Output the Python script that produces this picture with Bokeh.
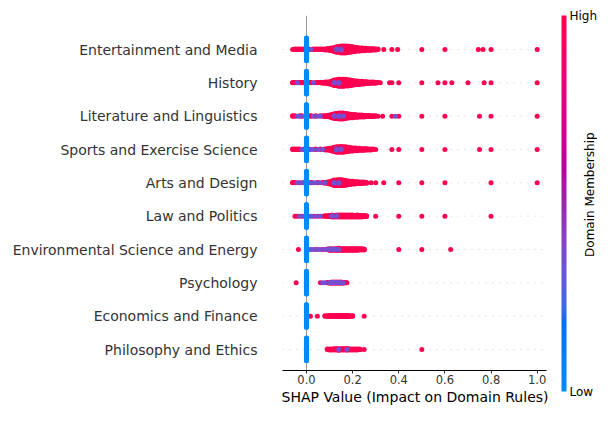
import numpy as np
from bokeh.plotting import figure
from bokeh.models import (Range1d, FixedTicker, PrintfTickFormatter, Span, ColumnDataSource,
                          LinearColorMapper, ColorBar, Label, Title)
from bokeh.embed import file_html
from bokeh.resources import INLINE

# ---------------- data ----------------
features = [
    "Entertainment and Media",
    "History",
    "Literature and Linguistics",
    "Sports and Exercise Science",
    "Arts and Design",
    "Law and Politics",
    "Environmental Science and Energy",
    "Psychology",
    "Economics and Finance",
    "Philosophy and Ethics",
]
xticks = [0.0, 0.2, 0.4, 0.6, 0.8, 1.0]
x_label = "SHAP Value (Impact on Domain Rules)"
color_label = "Domain Membership"
color_tick_labels = {0: "Low", 1: "High"}

# each entry: (SHAP value, number of samples, feature value 0=low .. 1=high)
ent = [
    (-0.06, 1, 1), (-0.05, 2, 1), (-0.04, 2, 1), (-0.03, 2, 1), (-0.02, 2, 1), (-0.01, 2, 1),
    (0.00, 60, 0),
    (0.01, 2, 1), (0.02, 1, 0.35), (0.03, 2, 1), (0.04, 2, 1), (0.05, 2, 1), (0.06, 2, 1), (0.07, 2, 1), (0.08, 3, 1),
    (0.13, 2, 0.35), (0.15, 3, 0.35),
    (0.09, 4, 1), (0.10, 6, 1), (0.11, 8, 1), (0.12, 11, 1), (0.13, 13, 1), (0.14, 16, 1), (0.15, 16, 1),
    (0.16, 19, 1), (0.17, 19, 1), (0.18, 18, 1), (0.19, 16, 1), (0.20, 14, 1), (0.21, 12, 1), (0.22, 10, 1),
    (0.23, 9, 1), (0.24, 8, 1), (0.25, 7, 1), (0.26, 6, 1), (0.27, 5, 1), (0.28, 5, 1), (0.29, 4, 1),
    (0.30, 3, 1), (0.31, 2, 1),
    (0.335, 1, 1), (0.37, 1, 1), (0.395, 1, 1), (0.50, 1, 1), (0.60, 1, 1), (0.745, 1, 1), (0.765, 1, 1),
    (0.80, 1, 1), (1.00, 1, 1),
]
his = [
    (-0.06, 2, 1), (-0.05, 2, 1), (-0.04, 1, 0.35), (-0.04, 1, 1), (-0.03, 2, 1), (-0.02, 2, 1), (-0.01, 2, 1),
    (0.00, 60, 0),
    (0.01, 2, 1), (0.02, 2, 1), (0.03, 1, 0.35), (0.04, 2, 1), (0.05, 2, 1), (0.06, 2, 1), (0.07, 3, 1), (0.08, 4, 1),
    (0.12, 2, 0.35), (0.14, 3, 0.35),
    (0.09, 5, 1), (0.10, 7, 1), (0.11, 10, 1), (0.12, 13, 1), (0.13, 16, 1), (0.14, 16, 1), (0.15, 19, 1),
    (0.16, 19, 1), (0.17, 18, 1), (0.18, 17, 1), (0.19, 15, 1), (0.20, 13, 1), (0.21, 11, 1), (0.22, 10, 1),
    (0.23, 9, 1), (0.24, 8, 1), (0.25, 7, 1), (0.26, 6, 1), (0.27, 5, 1), (0.28, 4, 1), (0.29, 4, 1),
    (0.30, 3, 1), (0.31, 2, 1), (0.32, 1, 1),
    (0.36, 1, 1), (0.37, 1, 1), (0.40, 1, 1), (0.50, 1, 1), (0.57, 1, 1), (0.60, 1, 1), (0.63, 1, 1),
    (0.70, 1, 1), (0.77, 1, 1), (0.80, 1, 1), (1.00, 1, 1),
]
lit = [
    (-0.06, 2, 1), (-0.05, 2, 1), (-0.04, 1, 0.35), (-0.03, 1, 0.35), (-0.03, 1, 1), (-0.02, 2, 1), (-0.01, 1, 0.35),
    (0.00, 60, 0),
    (0.01, 2, 1), (0.02, 2, 1), (0.03, 1, 0.35), (0.04, 2, 1), (0.05, 1, 0.35), (0.06, 1, 0.35), (0.06, 1, 1),
    (0.07, 2, 1), (0.08, 3, 1),
    (0.12, 2, 0.35), (0.14, 3, 0.35), (0.16, 2, 0.35),
    (0.09, 4, 1), (0.10, 6, 1), (0.11, 9, 1), (0.12, 11, 1), (0.13, 14, 1), (0.14, 13, 1), (0.15, 16, 1),
    (0.16, 14, 1), (0.17, 14, 1), (0.18, 12, 1), (0.19, 10, 1), (0.20, 9, 1), (0.21, 8, 1), (0.22, 7, 1),
    (0.23, 6, 1), (0.24, 6, 1), (0.25, 5, 1), (0.26, 4, 1), (0.27, 4, 1), (0.28, 3, 1), (0.29, 3, 1),
    (0.30, 2, 1), (0.31, 1, 1),
    (0.33, 1, 1), (0.37, 1, 1), (0.385, 1, 0.35), (0.40, 1, 1), (0.50, 1, 1), (0.60, 1, 1), (0.75, 1, 1),
    (0.80, 1, 1), (1.00, 1, 1),
]
spo = [
    (-0.06, 2, 1), (-0.05, 2, 1), (-0.04, 2, 1), (-0.03, 2, 1), (-0.02, 1, 0.35), (-0.01, 2, 1),
    (0.00, 60, 0),
    (0.01, 2, 1), (0.02, 1, 0.35), (0.03, 1, 0.35), (0.04, 2, 1), (0.05, 1, 0.35), (0.06, 2, 1), (0.07, 1, 0.35),
    (0.08, 3, 1),
    (0.13, 3, 0.35), (0.15, 2, 0.35),
    (0.09, 4, 1), (0.10, 6, 1), (0.11, 9, 1), (0.12, 12, 1), (0.13, 12, 1), (0.14, 15, 1), (0.15, 14, 1),
    (0.16, 15, 1), (0.17, 14, 1), (0.18, 12, 1), (0.19, 10, 1), (0.20, 9, 1), (0.21, 8, 1), (0.22, 7, 1),
    (0.23, 6, 1), (0.24, 5, 1), (0.25, 5, 1), (0.26, 4, 1), (0.27, 3, 1), (0.28, 3, 1), (0.29, 2, 1), (0.30, 1, 1),
    (0.37, 1, 1), (0.40, 1, 1), (0.50, 1, 1), (0.60, 1, 1), (0.75, 1, 1), (0.80, 1, 1), (1.00, 1, 1),
]
art = [
    (-0.06, 2, 1), (-0.05, 2, 1), (-0.04, 1, 0.35), (-0.03, 1, 1), (-0.02, 1, 0.35), (-0.01, 2, 1),
    (0.00, 60, 0),
    (0.01, 1, 0.35), (0.02, 2, 1), (0.03, 1, 0.35), (0.04, 1, 0.35), (0.05, 2, 1), (0.06, 1, 0.35), (0.07, 2, 1),
    (0.08, 1, 0.35), (0.08, 2, 1),
    (0.12, 3, 0.35), (0.14, 3, 0.35),
    (0.09, 4, 1), (0.10, 7, 1), (0.11, 10, 1), (0.12, 12, 1), (0.13, 15, 1), (0.14, 13, 1), (0.15, 16, 1),
    (0.16, 15, 1), (0.17, 13, 1), (0.18, 11, 1), (0.19, 9, 1), (0.20, 8, 1), (0.21, 7, 1), (0.22, 6, 1),
    (0.23, 5, 1), (0.24, 5, 1), (0.25, 4, 1), (0.26, 3, 1),
    (0.28, 1, 1), (0.30, 1, 1), (0.335, 1, 1), (0.40, 1, 1), (0.50, 1, 1), (0.60, 1, 1), (0.80, 1, 1), (1.00, 1, 1),
]
law = [
    (-0.05, 1, 1), (-0.04, 1, 1), (-0.03, 1, 0.35), (-0.02, 1, 1), (-0.01, 1, 0.35),
    (0.00, 60, 0),
    (0.01, 1, 0.35), (0.02, 1, 0.35), (0.03, 1, 1), (0.04, 1, 0.35), (0.05, 1, 1), (0.06, 1, 0.35), (0.07, 1, 1),
    (0.08, 2, 1),
    (0.11, 2, 0.35), (0.13, 2, 0.35),
    (0.09, 3, 1), (0.10, 4, 1), (0.11, 4, 1), (0.12, 5, 1), (0.13, 4, 1), (0.14, 6, 1), (0.15, 6, 1),
    (0.16, 6, 1), (0.17, 6, 1), (0.18, 6, 1), (0.19, 6, 1), (0.20, 6, 1), (0.21, 5, 1), (0.22, 6, 1),
    (0.23, 5, 1), (0.24, 5, 1), (0.25, 4, 1), (0.26, 3, 1),
    (0.30, 1, 1), (0.40, 1, 1), (0.50, 1, 1), (0.60, 1, 1), (0.80, 1, 1),
]
env = [
    (-0.035, 1, 1),
    (0.00, 60, 0),
    (0.01, 1, 0.35), (0.02, 1, 0.35), (0.03, 1, 0.35), (0.04, 1, 1), (0.05, 1, 0.35), (0.06, 1, 0.35),
    (0.07, 1, 1), (0.08, 1, 0.35),
    (0.10, 2, 0.35), (0.11, 2, 0.35), (0.12, 2, 0.35), (0.13, 1, 0.35), (0.14, 1, 0.35),
    (0.09, 2, 1), (0.10, 3, 1), (0.11, 3, 1), (0.12, 3, 1), (0.13, 4, 1), (0.14, 5, 1), (0.15, 5, 1),
    (0.16, 5, 1), (0.17, 5, 1), (0.18, 5, 1), (0.19, 5, 1), (0.20, 5, 1), (0.21, 5, 1), (0.22, 5, 1),
    (0.23, 4, 1), (0.24, 4, 1), (0.25, 3, 1),
    (0.40, 1, 1), (0.50, 1, 1), (0.625, 1, 1),
]
psy = [
    (-0.045, 1, 1),
    (0.00, 60, 0),
    (0.06, 1, 1), (0.07, 1, 0.35), (0.08, 1, 0.35),
    (0.10, 1, 0.35), (0.11, 2, 0.35), (0.12, 2, 0.35), (0.13, 2, 0.35), (0.14, 2, 0.35), (0.15, 1, 0.35),
    (0.16, 1, 0.35),
    (0.09, 2, 1), (0.10, 2, 1), (0.11, 2, 1), (0.12, 2, 1), (0.13, 2, 1), (0.14, 2, 1), (0.15, 3, 1),
    (0.16, 2, 1), (0.17, 2, 1), (0.175, 1, 1),
]
eco = [
    (0.00, 60, 0),
    (0.017, 1, 1), (0.047, 1, 1),
    (0.08, 2, 1), (0.09, 3, 1), (0.10, 4, 1), (0.11, 4, 1), (0.12, 4, 1), (0.13, 4, 1), (0.14, 4, 1),
    (0.15, 4, 1), (0.16, 4, 1), (0.17, 4, 1), (0.18, 4, 1), (0.19, 3, 1), (0.20, 2, 1),
    (0.25, 1, 1),
]
phi = [
    (0.00, 60, 0),
    (0.14, 1, 0.35), (0.175, 1, 0.35),
    (0.09, 2, 1), (0.10, 3, 1), (0.11, 3, 1), (0.12, 4, 1), (0.13, 4, 1), (0.14, 4, 1), (0.15, 4, 1),
    (0.16, 4, 1), (0.17, 4, 1), (0.175, 3, 1), (0.18, 4, 1), (0.19, 3, 1), (0.20, 3, 1), (0.21, 3, 1),
    (0.22, 3, 1), (0.23, 2, 1), (0.235, 1, 1), (0.25, 1, 1),
    (0.50, 1, 1),
]
rows = [ent, his, lit, spo, art, law, env, psy, eco, phi]

# ---------------- colour map (SHAP red_blue, LCh interpolation) ----------------
def lch_to_hex(L, C, H):
    a, b = C * np.cos(H), C * np.sin(H)
    fy = (L + 16) / 116
    fx, fz = fy + a / 500, fy - b / 200
    def finv(t):
        return t ** 3 if t ** 3 > 216 / 24389 else (116 * t - 16) / (24389 / 27)
    X, Y, Z = 0.95047 * finv(fx), finv(fy), 1.08883 * finv(fz)
    lin = [3.2406 * X - 1.5372 * Y - 0.4986 * Z,
           -0.9689 * X + 1.8758 * Y + 0.0415 * Z,
           0.0557 * X - 0.2040 * Y + 1.0570 * Z]
    out = []
    for c in lin:
        c = 1.055 * c ** (1 / 2.4) - 0.055 if c > 0.0031308 else 12.92 * c
        out.append(int(round(min(max(c, 0.0), 1.0) * 255)))
    return "#%02x%02x%02x" % tuple(out)

nsteps = 100
l_vals = list(np.linspace(54.0, 40.0, nsteps // 2)) + list(np.linspace(40.0, 54.0, nsteps // 2))
c_vals = np.linspace(70.0, 90.0, nsteps)
h_vals = np.linspace(4.6588, 0.35470565 + 2 * np.pi, nsteps)
palette = [lch_to_hex(l, c, h) for l, c, h in zip(l_vals, c_vals, h_vals)]
mapper = LinearColorMapper(palette=palette, low=0, high=1)

# ---------------- beeswarm layout ----------------
ROW_HEIGHT = 0.4

def beeswarm(groups, pos):
    xs, fs, layers = [], [], []
    seen = {}
    for v, n, f in groups:
        key = round(v, 4)
        for _ in range(n):
            layer = seen.get(key, 0)
            seen[key] = layer + 1
            xs.append(v)
            fs.append(f)
            layers.append(np.ceil(layer / 2) * ((layer % 2) * 2 - 1))
    layers = np.array(layers, dtype=float)
    ys = pos + layers * 0.9 * ROW_HEIGHT / np.max(layers + 1)
    return xs, list(ys), fs

all_x, all_y, all_f = [], [], []
n_rows = len(features)
for i, groups in enumerate(rows):
    xs, ys, fs = beeswarm(groups, n_rows - 1 - i)
    all_x += xs
    all_y += ys
    all_f += fs
order = np.argsort(-np.array(all_f), kind="stable")
src = ColumnDataSource(dict(
    x=[all_x[k] for k in order],
    y=[all_y[k] for k in order],
    f=[all_f[k] for k in order],
))

# ---------------- figure ----------------
FONT = "DejaVu Sans"
X_LO, X_HI = -0.104, 1.040          # visible extent of the SHAP axis
Y_LO, Y_HI = -0.63, 10.02
p = figure(width=597, height=405,
           x_range=Range1d(X_LO, 1.2614), y_range=Range1d(Y_LO, Y_HI),
           output_backend="svg", toolbar_location=None,
           min_border_left=282, min_border_right=0, min_border_top=15, min_border_bottom=35)
p.outline_line_color = None
p.grid.visible = False
p.background_fill_color = "white"
p.border_fill_color = "white"

row_pos = list(range(n_rows))
p.segment(x0=[X_LO] * n_rows, x1=[X_HI] * n_rows, y0=row_pos, y1=row_pos,
          line_color="#cccccc", line_width=1, line_dash="1 6", level="underlay")
p.add_layout(Span(location=0, dimension="height", line_color="#999999", line_width=1,
                  level="underlay"))

p.scatter("x", "y", source=src, size=5, marker="circle",
          fill_color={"field": "f", "transform": mapper}, line_color=None)

xa = p.xaxis[0]
xa.bounds = (X_LO, X_HI)
xa.ticker = FixedTicker(ticks=xticks)
xa.formatter = PrintfTickFormatter(format="%.1f")
xa.major_label_text_font = FONT
xa.major_label_text_font_size = "11.5px"
xa.major_label_text_color = "#333333"
xa.major_label_standoff = 1
xa.major_tick_out = 3
xa.major_tick_in = 0
xa.major_tick_line_color = "#333333"
xa.minor_tick_line_color = None
xa.axis_line_color = "#000000"

# x-axis title, left-aligned under the visible part of the axis
p.add_layout(Title(text=x_label, align="left", offset=-1, standoff=0,
                   text_font=FONT, text_font_size="14px", text_font_style="normal",
                   text_color="#000000"), "below")

ya = p.yaxis[0]
ya.ticker = FixedTicker(ticks=row_pos)
ya.major_label_overrides = {n_rows - 1 - i: name for i, name in enumerate(features)}
ya.axis_line_color = None
ya.major_tick_line_color = None
ya.minor_tick_line_color = None
ya.major_tick_out = 0
ya.major_tick_in = 0
ya.major_label_standoff = 25
ya.major_label_text_font = FONT
ya.major_label_text_font_size = "14px"
ya.major_label_text_color = "#333333"

cb = ColorBar(color_mapper=mapper, ticker=FixedTicker(ticks=[0, 1]),
              major_label_overrides=color_tick_labels,
              width=5, height=376, padding=0, margin=0, location=(279, -21),
              major_tick_line_color=None, minor_tick_line_color=None,
              bar_line_color=None, border_line_color=None,
              background_fill_color=None, background_fill_alpha=0,
              label_standoff=3,
              major_label_text_font=FONT, major_label_text_font_size="12px",
              major_label_text_color="#000000")
p.add_layout(cb)

# rotated colour-bar label (inside the widened frame, right of the colour bar)
p.add_layout(Label(x=1.227, y=(Y_LO + Y_HI) / 2 - 0.05, text=color_label,
                   angle=90, angle_units="deg", text_align="center", text_baseline="middle",
                   text_font=FONT, text_font_size="12px", text_color="#000000"))

open("out.html", "w").write(file_html(p, INLINE, title="SHAP beeswarm"))
